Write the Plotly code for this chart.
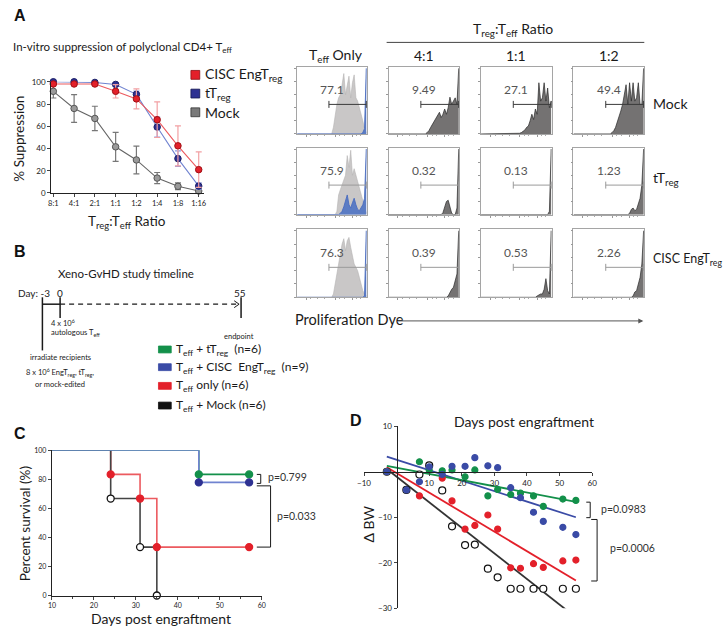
import plotly.graph_objects as go

W, H = 727, 632
FONT = "Lato"
BOLD = "Liberation Sans"

# ---------------- panel A: in-vitro suppression ----------------
ratios = ["8:1", "4:1", "2:1", "1:1", "1:2", "1:4", "1:8", "1:16"]
cisc_supp = [98, 98, 98, 91.4, 84.6, 65.9, 42.4, 21]
cisc_err = [1, 1, 1, 6, 9, 16, 18, 16]
ttreg_supp = [100, 100, 99.4, 97.6, 88.7, 59.3, 30.9, 6.2]
ttreg_err = [0.5, 0.5, 0.5, 1, 3, 9, 7, 3]
mock_supp = [91.4, 76, 67, 41.5, 29.7, 13.4, 6, 1.8]
mock_err = [6, 12.5, 11, 13, 12.5, 5, 3, 1.5]

# ---------------- panel A: proliferation histograms ----------------
hist_x = [0.0, 0.50, 0.525, 0.55, 0.575, 0.60, 0.625, 0.65, 0.675, 0.70, 0.725, 0.75,
          0.775, 0.80, 0.825, 0.85, 0.875, 0.90, 0.925, 0.95, 0.975, 1.0]
mock_only = [0, 0, 0.1, 0.3, 0.45, 0.55, 0.6, 0.75, 0.92, 0.6, 0.72, 0.88, 0.55, 0.78, 0.9, 0.55, 0.5, 0.4, 0.33, 0.2, 0.08, 0.02]
mock_only_blue = [0, 0, 0, 0, 0, 0, 0, 0, 0, 0, 0, 0, 0, 0, 0, 0, 0, 0, 0, 0.02, 0.08, 1.0]
mock_41 = [0, 0, 0, 0.02, 0.05, 0.1, 0.15, 0.2, 0.25, 0.3, 0.33, 0.25, 0.3, 0.38, 0.3, 0.4, 0.56, 0.45, 0.5, 0.55, 0.45, 1.0]
mock_11 = [0, 0, 0, 0.01, 0.02, 0.04, 0.06, 0.1, 0.12, 0.2, 0.3, 0.22, 0.38, 0.3, 0.78, 0.5, 0.55, 0.78, 0.5, 0.7, 0.4, 0.5]
mock_12 = [0, 0, 0, 0.02, 0.05, 0.1, 0.18, 0.25, 0.35, 0.45, 0.6, 0.75, 0.45, 0.78, 0.5, 0.78, 0.5, 0.55, 0.78, 0.45, 0.45, 1.0]
tt_only = [0, 0, 0, 0, 0.05, 0.3, 0.38, 0.45, 0.5, 0.6, 0.9, 0.72, 0.98, 0.6, 0.7, 0.6, 0.5, 0.38, 0.3, 0.2, 0.1, 0.02]
tt_only_blue = [0, 0, 0, 0, 0, 0, 0.02, 0.05, 0.12, 0.22, 0.3, 0.15, 0.1, 0.18, 0.25, 0.15, 0.08, 0.06, 0.1, 0.15, 0.25, 1.0]
tt_41 = [0, 0, 0, 0, 0, 0, 0, 0, 0, 0, 0, 0, 0.03, 0.1, 0.2, 0.22, 0.1, 0.02, 0, 0, 0.1, 1.0]
tt_11 = [0, 0, 0, 0, 0, 0, 0, 0, 0, 0, 0, 0, 0, 0, 0, 0, 0, 0, 0, 0, 0.05, 1.0]
tt_12 = [0, 0, 0, 0, 0, 0, 0, 0, 0, 0, 0, 0, 0, 0.02, 0.08, 0.1, 0.06, 0.08, 0.15, 0.25, 0.45, 1.0]
cisc_only = [0, 0, 0.05, 0.2, 0.4, 0.55, 0.7, 0.8, 0.88, 0.7, 0.85, 0.9, 0.75, 0.6, 0.5, 0.45, 0.4, 0.3, 0.2, 0.1, 0.05, 0.02]
cisc_only_blue = [0, 0, 0, 0, 0, 0, 0, 0, 0, 0, 0, 0, 0, 0, 0, 0, 0, 0, 0, 0, 0.02, 1.0]
cisc_41 = [0, 0, 0, 0, 0, 0, 0, 0, 0, 0, 0, 0, 0, 0, 0, 0.02, 0.08, 0.12, 0.15, 0.25, 0.35, 1.0]
cisc_11 = [0, 0, 0, 0, 0, 0, 0, 0, 0, 0, 0, 0, 0, 0.02, 0.04, 0.05, 0.05, 0.12, 0.28, 0.1, 0.05, 1.0]
cisc_12 = [0, 0, 0, 0, 0, 0, 0, 0, 0, 0, 0, 0, 0, 0, 0, 0.02, 0.08, 0.1, 0.2, 0.3, 0.5, 1.0]
gate_pct = [["77.1", "9.49", "27.1", "49.4"],
            ["75.9", "0.32", "0.13", "1.23"],
            ["76.3", "0.39", "0.53", "2.26"]]
col_heads = ["T<sub>eff</sub> Only", "4:1", "1:1", "1:2"]
row_heads = ["Mock", "tT<sub>reg</sub>", "CISC EngT<sub>reg</sub>"]

# ---------------- panel C: survival ----------------
surv_days_tt = [10, 45, 57]
surv_tt = [100, 83.3, 83.3]
surv_days_cisc = [10, 45, 57]
surv_cisc = [100, 77.8, 77.8]
surv_days_teff = [10, 24, 31, 35, 57]
surv_teff = [100, 83.3, 66.7, 33.3, 33.3]
surv_days_mock = [10, 24, 31, 35]
surv_mock = [100, 66.7, 33.3, 0]

# ---------------- panel D: body weight ----------------
bw_days_tt = [-3, 7, 10, 14, 17, 21, 24, 28, 31, 35, 38, 42, 45, 51, 55]
bw_tt = [0, 2.2, 0.4, 0.2, 0.4, -1.1, 0.4, -5.3, -3.9, -5, -4.7, -5.3, -7.6, -6, -6.3]
bw_days_cisc = [-3, 3, 7, 10, 14, 17, 21, 24, 28, 31, 35, 38, 42, 45, 51, 55]
bw_cisc = [0, -4, -2.2, 1.1, -0.6, 1.2, 1.2, 3.1, 1.3, 0.9, -3.5, -5.7, -8.9, -10.9, -12.2, -13.8]
bw_days_teff = [-3, 7, 14, 17, 21, 24, 28, 31, 35, 38, 42, 45, 51, 55]
bw_teff = [0, -5.3, -1.4, -6.4, -12.6, -11.8, -9.5, -12.6, -21.1, -21.2, -20.2, -21, -19.6, -19.4]
bw_days_mock = [-3, 3, 7, 10, 14, 17, 21, 24, 28, 31, 35, 38, 42, 45, 51, 55]
bw_mock = [0, -4, -0.6, 1.4, -4.1, -12, -16.1, -16, -21.3, -23.2, -25.7, -25.7, -25.7, -25.7, -25.7, -25.7]
fit_days = [-3, 55]
fit_tt = [1.3, -6.6]
fit_cisc = [3.3, -10.0]
fit_teff = [1.0, -23.9]
fit_mock = [0.6, -32.0]

RED, RED_LT = "#e3202a", "#ec5a5f"
NAVY, BLUE_LT = "#2e3192", "#7083d0"
GREEN = "#13904a"


def px(x):
    return x / W


def py(y):
    return 1 - y / H


def xdom(a, b):
    return [a / W, b / W]


def ydom(top, bottom):
    return [1 - bottom / H, 1 - top / H]


annotations = []
shapes = []


def note(text, x, y, size=11, xanchor="center", yanchor="middle", color="#1a1a1a",
         family=FONT, angle=0, **kw):
    annotations.append(dict(text=text, x=px(x), y=py(y), xref="paper", yref="paper",
                            showarrow=False, xanchor=xanchor, yanchor=yanchor, textangle=angle,
                            font=dict(size=size, color=color, family=family), **kw))


def pline(x0, y0, x1, y1, color="#1a1a1a", width=1, dash="solid"):
    shapes.append(dict(type="line", xref="paper", yref="paper", x0=px(x0), y0=py(y0),
                       x1=px(x1), y1=py(y1), line=dict(color=color, width=width, dash=dash)))


def prect(x0, y0, x1, y1, fill, edge=None):
    shapes.append(dict(type="rect", xref="paper", yref="paper", x0=px(x0), y0=py(y1),
                       x1=px(x1), y1=py(y0), fillcolor=fill,
                       line=dict(color=edge or fill, width=0.8)))


fig = go.Figure()
axes = {}
tick_font = dict(size=8, color="#222", family=FONT)

# ---- A: suppression curve (axis 1)
axes["xaxis"] = dict(domain=xdom(45, 200), range=[-0.1, 7.24], type="category",
                     showline=True, linecolor="#222", linewidth=1.2, ticks="outside",
                     ticklen=3, tickfont=dict(size=7.5, color="#222", family=FONT), anchor="y")
axes["yaxis"] = dict(domain=ydom(78, 191), range=[0, 100], tickvals=[0, 20, 40, 60, 80, 100],
                     showline=True, linecolor="#222", linewidth=1.2, ticks="outside",
                     ticklen=3, tickfont=tick_font, anchor="x")

for vals, errs, fill, edge, lc, ec in [
    (mock_supp, mock_err, "#9a9a9a", "#555", "#666", "#777"),
    (ttreg_supp, ttreg_err, NAVY, "#1c1f66", BLUE_LT, "#8d9be0"),
    (cisc_supp, cisc_err, RED, "#a01015", RED_LT, "#f2a0a3"),
]:
    fig.add_trace(go.Scatter(
        x=ratios, y=vals, mode="lines+markers", xaxis="x", yaxis="y", cliponaxis=False,
        line=dict(color=lc, width=1.1),
        marker=dict(size=6.5, color=fill, line=dict(color=edge, width=1)),
        error_y=dict(type="data", array=errs, color=ec, thickness=1.2, width=3),
    ))

note("<b>A</b>", 5, 11, size=16, xanchor="left", family=BOLD, color="#111")
note("In-vitro suppression of polyclonal CD4+ T<sub>eff</sub>", 4, 43, size=11.5, xanchor="left")
note("% Suppression", 12, 136, size=13.5, angle=-90)
note("T<sub>reg</sub>:T<sub>eff</sub> Ratio", 122, 220, size=13.5)
for (lbl, col, edge), yy in zip([("CISC EngT<sub>reg</sub>", RED, "#8a1014"),
                                 ("tT<sub>reg</sub>", NAVY, "#151850"),
                                 ("Mock", "#7a7a7a", "#333")], [71, 90, 109]):
    prect(187, yy - 4.5, 196, yy + 4.5, col, edge)
    note(lbl, 199, yy, size=14, xanchor="left")

# ---- A: histogram grid (axes 2..13)
col_x = [(295, 366), (388, 460), (482, 554), (576, 648)]
row_y = [(63, 131), (145, 213), (228, 297)]
grid = [
    [(mock_only, mock_only_blue), mock_41, mock_11, mock_12],
    [(tt_only, tt_only_blue), tt_41, tt_11, tt_12],
    [(cisc_only, cisc_only_blue), cisc_41, cisc_11, cisc_12],
]
n = 2
for r, (yt, yb) in enumerate(row_y):
    for c, (xl, xr) in enumerate(col_x):
        xa, ya = f"x{n}", f"y{n}"
        axes[f"xaxis{n}"] = dict(domain=xdom(xl, xr), range=[0, 1.01], anchor=ya,
                                 showline=True, mirror=True, linecolor="#a5a5a5", linewidth=0.8,
                                 ticks="outside", ticklen=2, tickcolor="#999",
                                 tickvals=[0.13, 0.55, 0.8], showticklabels=False,
                                 minor=dict(ticks="outside", ticklen=1, tickcolor="#aaa",
                                            tickvals=[0.2, 0.3, 0.4, 0.62, 0.68, 0.86, 0.92]))
        axes[f"yaxis{n}"] = dict(domain=ydom(yt, yb), range=[0, 1.02], anchor=xa,
                                 showline=True, mirror=True, linecolor="#a5a5a5", linewidth=0.8,
                                 ticks="outside", ticklen=2, tickcolor="#999",
                                 tickvals=[0, 0.2, 0.4, 0.6, 0.8, 1.0], showticklabels=False)
        cell = grid[r][c]
        if c == 0:
            light, blue = cell
            fig.add_trace(go.Scatter(x=hist_x, y=light, xaxis=xa, yaxis=ya, mode="lines",
                                     fill="tozeroy", fillcolor="#c9c7c7",
                                     line=dict(color="#b5b3b3", width=0.6)))
            fig.add_trace(go.Scatter(x=hist_x, y=blue, xaxis=xa, yaxis=ya, mode="lines",
                                     fill="tozeroy", fillcolor="#5b7cc4",
                                     line=dict(color="#4a6cc0", width=0.9)))
        else:
            fig.add_trace(go.Scatter(x=hist_x, y=cell, xaxis=xa, yaxis=ya, mode="lines",
                                     fill="tozeroy", fillcolor="#747272",
                                     line=dict(color="#2a2a2a", width=0.7)))
        gate_col = "#3a3a3a" if r == 0 else "#9a9a9a"
        fig.add_trace(go.Scatter(x=[0.46, 1.0], y=[0.45, 0.45], xaxis=xa, yaxis=ya,
                                 mode="lines+markers", cliponaxis=False,
                                 line=dict(color=gate_col, width=1),
                                 marker=dict(symbol="line-ns", size=5,
                                             line=dict(color=gate_col, width=1))))
        annotations.append(dict(text=gate_pct[r][c], x=0.5, y=0.68, xref=xa, yref=ya,
                                showarrow=False, font=dict(size=12, color="#555", family=FONT)))
        n += 1

for c, (xl, xr) in enumerate(col_x):
    note(col_heads[c], (xl + xr) / 2 + (4 if c == 0 else 0), 51, size=14)
note("T<sub>reg</sub>:T<sub>eff</sub> Ratio", 514, 25, size=14)
pline(386, 38, 648, 38, color="#444", width=1)
for lbl, yy, sz in zip(row_heads, [100, 176, 259], [14, 14, 12.5]):
    note(lbl, 655, yy, size=sz, xanchor="left")
note("Proliferation Dye", 291, 320, size=14.5, xanchor="left")
annotations.append(dict(text="", x=px(647), y=py(321), xref="paper", yref="paper",
                        ax=-247, ay=0, showarrow=True, arrowhead=2, arrowsize=1,
                        arrowwidth=1, arrowcolor="#555"))

# ---- B: timeline
note("<b>B</b>", 5, 250, size=16, xanchor="left", family=BOLD, color="#111")
note("Xeno-GvHD study timeline", 121, 273, size=11.5)
note("Day: -3", 46, 293, size=10, xanchor="right")
note("0", 54, 293, size=10)
note("55", 237, 293, size=10)
pline(36, 297, 36, 351, width=1.5)
pline(36, 304, 54, 304, width=1.5)
pline(54, 297, 54, 318, width=1.5)
pline(54, 304, 235, 304, width=1.2, dash="5px,4px")
pline(231, 300.5, 236, 304, width=1)
pline(231, 307.5, 236, 304, width=1)
pline(238, 297, 238, 318, width=1.5)
note("4 x 10<sup>6</sup>", 43, 323, size=7.5, xanchor="left")
note("autologous T<sub>eff</sub>", 43, 333, size=7.5, xanchor="left")
note("endpoint", 236, 337, size=7.5)
note("irradiate recipients", 54, 358, size=7.5)
note("8 x 10<sup>6</sup> EngT<sub>reg</sub>, tT<sub>reg</sub>,", 54, 373, size=7.5)
note("or mock-edited", 54, 386, size=7.5)
for lbl, col, yy in [("T<sub>eff</sub> + tT<sub>reg</sub>  (n=6)", GREEN, 350),
                     ("T<sub>eff</sub> + CISC  EngT<sub>reg</sub>  (n=9)", "#3a4ba6", 368),
                     ("T<sub>eff</sub> only (n=6)", RED, 387),
                     ("T<sub>eff</sub> + Mock (n=6)", "#111", 407)]:
    prect(154, yy - 3.5, 167, yy + 3.5, col)
    note(lbl, 170, yy, size=12, xanchor="left")

# ---- C: survival (axis 14)
axes["xaxis14"] = dict(domain=xdom(45.7, 259), range=[10, 60], anchor="y14",
                       tickvals=[10, 20, 30, 40, 50, 60], showline=True, linecolor="#222",
                       linewidth=1.2, ticks="outside", ticklen=3, tickfont=dict(size=7, color="#222", family=FONT),
                       minor=dict(ticks="outside", ticklen=2, tickvals=[15, 25, 35, 45, 55]))
axes["yaxis14"] = dict(domain=ydom(452.3, 600), range=[0, 100], anchor="x14",
                       tickvals=[0, 20, 40, 60, 80, 100], showline=True, linecolor="#222",
                       linewidth=1.2, ticks="outside", ticklen=3, tickfont=dict(size=7, color="#222", family=FONT))

for days, surv, lc in [(surv_days_teff, surv_teff, RED_LT), (surv_days_mock, surv_mock, "#444"),
                       (surv_days_tt, surv_tt, GREEN), (surv_days_cisc, surv_cisc, BLUE_LT)]:
    fig.add_trace(go.Scatter(x=days, y=surv, mode="lines", line_shape="hv", xaxis="x14",
                             yaxis="y14", cliponaxis=False, line=dict(color=lc, width=1.6)))
for days, surv, fill, edge in [(surv_days_mock, surv_mock, "white", "#111"),
                               (surv_days_teff, surv_teff, RED, RED),
                               (surv_days_tt, surv_tt, GREEN, GREEN),
                               (surv_days_cisc, surv_cisc, NAVY, NAVY)]:
    fig.add_trace(go.Scatter(x=days[1:], y=surv[1:], mode="markers", xaxis="x14", yaxis="y14",
                             cliponaxis=False,
                             marker=dict(size=7, color=fill, line=dict(color=edge, width=1.3))))

note("<b>C</b>", 5, 435, size=16, xanchor="left", family=BOLD, color="#111")
note("Percent survival (%)", 18, 527, size=13.5, angle=-90)
note("Days post engraftment", 157, 623, size=14)


def cy(v):
    return 600 - 1.477 * v


pline(254, cy(83.3), 258, cy(83.3))
pline(258, cy(83.3), 258, cy(77.8) + 1)
pline(254, cy(77.8) + 1, 258, cy(77.8) + 1)
note("p=0.799", 263, 480, size=10.5, xanchor="left", color="#333")
pline(254, cy(77.8) + 3.5, 268, cy(77.8) + 3.5)
pline(268, cy(77.8) + 3.5, 268, cy(33.3))
pline(254, cy(33.3), 268, cy(33.3))
note("p=0.033", 272, 519, size=10.5, xanchor="left", color="#333")

# ---- D: body weight (axis 15)
axes["xaxis15"] = dict(domain=xdom(363, 595), range=[-10, 60], anchor="free",
                       position=py(474.6), tickvals=[-10, 10, 20, 30, 40, 50, 60],
                       showline=True, linecolor="#222", linewidth=1.2, ticks="outside",
                       ticklen=3, tickfont=tick_font)
axes["yaxis15"] = dict(domain=ydom(428, 613), range=[-30, 10], anchor="free",
                       position=px(396.2), tickvals=[10, -10, -20, -30],
                       showline=True, linecolor="#222", linewidth=1.2, ticks="outside",
                       ticklen=3, tickfont=tick_font)

for xs, ys, col in [(fit_days, fit_mock, "#333"), (fit_days, fit_teff, RED),
                    (fit_days, fit_cisc, "#3a4ba6"), (fit_days, fit_tt, GREEN)]:
    fig.add_trace(go.Scatter(x=xs, y=ys, mode="lines", xaxis="x15", yaxis="y15",
                             line=dict(color=col, width=1.8)))
for xs, ys, fill, edge in [(bw_days_mock, bw_mock, "white", "#111"),
                           (bw_days_teff, bw_teff, RED, RED),
                           (bw_days_tt, bw_tt, GREEN, GREEN),
                           (bw_days_cisc, bw_cisc, "#3a4ba6", "#3a4ba6")]:
    fig.add_trace(go.Scatter(x=xs, y=ys, mode="markers", xaxis="x15", yaxis="y15",
                             cliponaxis=False,
                             marker=dict(size=6 if fill != "white" else 7, color=fill,
                                         line=dict(color=edge, width=1.2))))

note("<b>D</b>", 347, 422, size=16, xanchor="left", family=BOLD, color="#111")
note("Days post engraftment", 526, 423, size=14)
note("Δ BW", 368, 527, size=14, angle=-90)


def dy(v):
    return 474.6 - 4.63 * v


pline(589, dy(-6.6), 593, dy(-6.6))
pline(593, dy(-6.6), 593, dy(-10.0))
pline(589, dy(-10.0), 593, dy(-10.0))
note("p=0.0983", 602, 512, size=10.5, xanchor="left", color="#333")
pline(594, dy(-10.4), 600, dy(-10.4))
pline(600, dy(-10.4), 600, dy(-23.9))
pline(594, dy(-23.9), 600, dy(-23.9))
note("p=0.0006", 611, 552, size=10.5, xanchor="left", color="#333")

fig.update_layout(
    width=W, height=H, margin=dict(l=0, r=0, t=0, b=0),
    paper_bgcolor="white", plot_bgcolor="white", showlegend=False,
    font=dict(family=FONT, color="#1a1a1a"),
    annotations=annotations, shapes=shapes, **axes,
)
fig.update_xaxes(showgrid=False, zeroline=False, fixedrange=True)
fig.update_yaxes(showgrid=False, zeroline=False, fixedrange=True)

fig.write_html("out.html", config={"displayModeBar": False},
               post_script="document.body.style.margin='0';")
